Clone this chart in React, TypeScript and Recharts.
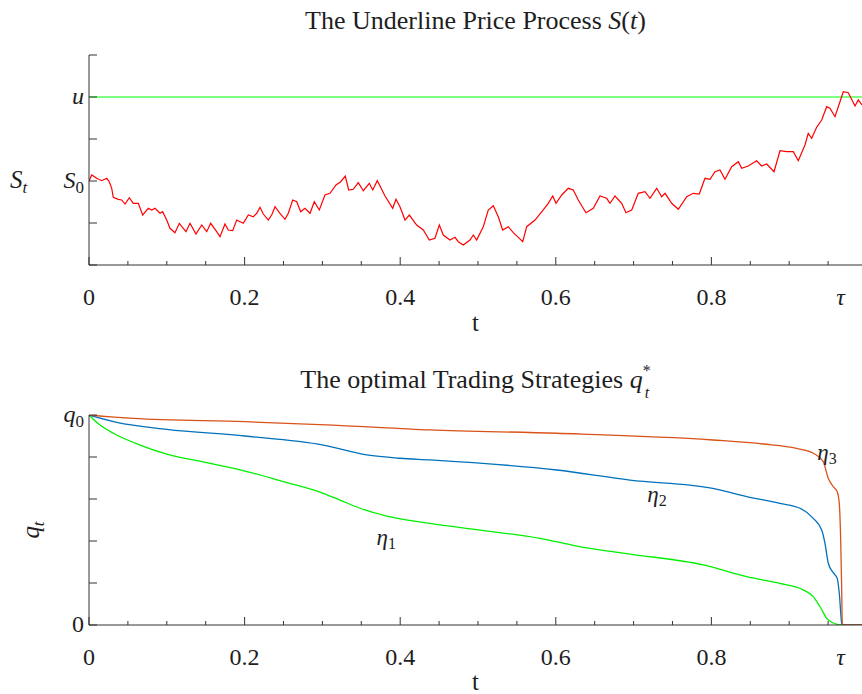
import { LineChart, Line, XAxis, YAxis, ReferenceLine, ReferenceDot } from 'recharts';

const SERIF = '"Liberation Serif", "Times New Roman", serif';
const INK = '#1e1e1e';
const AXIS = '#333333';

// shared time axis
const tMax = 0.9936;
const tau = 0.966;
const timeTicks = [0, 0.05, 0.1, 0.15, 0.2, 0.25, 0.3, 0.35, 0.4, 0.45, 0.5, 0.55, 0.6, 0.65, 0.7, 0.75, 0.8, 0.85, 0.9, 0.95];
const timeLabels = [0, 0.2, 0.4, 0.6, 0.8];

// price path S(t)
const barrier = 120;
const priceTicks = [80, 90, 100, 110, 120, 130];
const priceT = [
    0, 0.0035, 0.0099, 0.0163, 0.0228, 0.0261, 0.0292, 0.0312, 0.0377, 0.042,
    0.0463, 0.0518, 0.0569, 0.0634, 0.069, 0.0762, 0.0806, 0.0848, 0.0913, 0.0947,
    0.0999, 0.1041, 0.1105, 0.1161, 0.1212, 0.1247, 0.1298, 0.1375, 0.1449, 0.1513,
    0.1564, 0.1641, 0.1684, 0.1748, 0.179, 0.1847, 0.1898, 0.1983, 0.2048, 0.2112,
    0.2156, 0.2198, 0.224, 0.2305, 0.2348, 0.2391, 0.2455, 0.2519, 0.2562, 0.2618,
    0.267, 0.2721, 0.2776, 0.2841, 0.2896, 0.296, 0.3033, 0.3098, 0.3175, 0.3235,
    0.3294, 0.3338, 0.3397, 0.3461, 0.3526, 0.3603, 0.3647, 0.3706, 0.3805, 0.3904,
    0.3946, 0.3997, 0.4062, 0.4117, 0.4212, 0.4297, 0.4374, 0.4447, 0.4503, 0.4554,
    0.464, 0.4704, 0.4747, 0.4811, 0.4897, 0.494, 0.4983, 0.5068, 0.5132, 0.5197,
    0.5261, 0.5317, 0.5389, 0.5454, 0.5575, 0.5626, 0.5733, 0.5839, 0.5904, 0.596,
    0.6003, 0.6076, 0.6161, 0.6225, 0.6289, 0.6388, 0.6482, 0.6568, 0.6654, 0.6697,
    0.6761, 0.6847, 0.6902, 0.6976, 0.706, 0.7147, 0.7211, 0.7297, 0.7361, 0.7404,
    0.749, 0.7575, 0.7683, 0.7767, 0.7844, 0.7918, 0.7982, 0.8046, 0.8111, 0.8175,
    0.8261, 0.8346, 0.839, 0.8474, 0.8582, 0.8646, 0.8711, 0.8805, 0.8882, 0.8968,
    0.9053, 0.9117, 0.9203, 0.9245, 0.9289, 0.9353, 0.9418, 0.9482, 0.9524, 0.9589,
    0.9653, 0.9695, 0.976, 0.9846, 0.9888, 0.9936,
];
const priceS = [
    100, 101.43, 100.64, 100.07, 100.64, 99.83, 98.26, 96.12, 95.64, 95.48,
    94.52, 96.02, 94.69, 94.69, 91.9, 93.5, 93.1, 93.5, 92.31, 92.69,
    90.71, 88.74, 87.69, 89.93, 88.74, 87.93, 89.93, 87.38, 89.52, 87.93,
    89.93, 87.93, 86.74, 89.76, 88.33, 88.17, 90.71, 89.93, 91.9, 91.5,
    92.31, 93.74, 92.14, 90.71, 91.9, 93.88, 92.31, 90.88, 92.31, 95.48,
    95.07, 92.69, 93.5, 92.31, 95.07, 93.1, 96.67, 97.07, 99.05, 99.83,
    101.19, 97.86, 98.02, 99.6, 97.69, 99.45, 97.86, 100.07, 96.43, 93.5,
    95.64, 93.88, 90.71, 91.9, 89.52, 88.33, 85.95, 86.36, 89.52, 87.14,
    85.95, 86.6, 85.55, 84.76, 85.95, 87.14, 85.95, 89.12, 93.1, 94.12,
    91.5, 88.33, 89.12, 87.69, 85.55, 89.12, 90.71, 93.1, 94.69, 96.43,
    94.69, 96.67, 98.26, 97.86, 95.48, 92.45, 93.5, 96.43, 95.88, 94.69,
    96.43, 94.69, 92.45, 93.1, 97.07, 97.45, 95.88, 98.26, 96.26, 97.07,
    94.69, 93.26, 96.26, 97.07, 96.9, 100.64, 100.4, 102.21, 102.62, 100.4,
    103.4, 104.6, 103.02, 103.57, 104.83, 103.57, 104.05, 102.21, 107.21, 106.98,
    106.98, 104.83, 108.57, 111.36, 110.17, 112.79, 114.52, 117.69, 117.31, 115.31,
    118.88, 121.26, 121.02, 117.86, 119.29, 118.1,
];

// optimal holdings q_t / q_0 for each eta
const qTicks = [0, 0.2, 0.4, 0.6, 0.8, 1];
const eta1T = [0, 0.0141, 0.0312, 0.0656, 0.0999, 0.1513, 0.2005, 0.2497, 0.3012, 0.3226, 0.3483, 0.3826, 0.4383, 0.5026, 0.5797, 0.6269, 0.6954, 0.7896, 0.8454, 0.8882, 0.9181, 0.931, 0.9396, 0.9503, 0.9675, 0.9936];
const eta1Q = [1, 0.952, 0.913, 0.857, 0.814, 0.773, 0.733, 0.683, 0.627, 0.595, 0.556, 0.519, 0.484, 0.452, 0.413, 0.376, 0.338, 0.286, 0.23, 0.198, 0.167, 0.135, 0.087, 0.024, 0, 0];
const eta2T = [0, 0.0356, 0.0999, 0.2005, 0.3012, 0.3569, 0.3997, 0.4383, 0.6012, 0.6954, 0.8017, 0.8454, 0.8882, 0.9139, 0.931, 0.9418, 0.946, 0.9503, 0.9567, 0.9618, 0.9644, 0.9675, 0.9683, 0.9936];
const eta2Q = [1, 0.965, 0.932, 0.9, 0.857, 0.81, 0.794, 0.786, 0.738, 0.69, 0.651, 0.611, 0.579, 0.556, 0.508, 0.452, 0.389, 0.294, 0.249, 0.222, 0.151, 0.008, 0, 0];
const eta3T = [0, 0.057, 0.2005, 0.3136, 0.4383, 0.6012, 0.8017, 0.8667, 0.9096, 0.931, 0.9438, 0.9503, 0.9567, 0.9618, 0.9644, 0.9662, 0.9675, 0.9683, 0.9936];
const eta3Q = [1, 0.984, 0.968, 0.952, 0.929, 0.913, 0.881, 0.862, 0.841, 0.818, 0.778, 0.698, 0.659, 0.635, 0.579, 0.405, 0.167, 0, 0];

// where the eta names sit on the lower panel
const etaLabelT = [0.382, 0.73, 0.9486];
const etaLabelQ = [0.381, 0.586, 0.786];

const zip = (ts: number[], vs: number[], key: string) => ts.map((t, i) => ({ t, [key]: vs[i] }));
const priceData = zip(priceT, priceS, 's');
const eta1Data = zip(eta1T, eta1Q, 'q');
const eta2Data = zip(eta2T, eta2Q, 'q');
const eta3Data = zip(eta3T, eta3Q, 'q');

const textStyle = { fontFamily: SERIF, fill: INK };

// ticks point into the plot; labels drawn under the frame
function BottomTick({ x, y, payload }: any) {
    const v = payload.value;
    const isTau = v === tau;
    const major = timeLabels.includes(v);
    return (
        <g>
            {!isTau && <line x1={x} x2={x} y1={y} y2={y - (major ? 8 : 4)} stroke={AXIS} />}
            {(major || isTau) && (
                <text x={x} y={y + 40} textAnchor="middle" fontSize={24} fontStyle={isTau ? 'italic' : 'normal'} {...textStyle}>
                    {isTau ? 'τ' : String(v)}
                </text>
            )}
        </g>
    );
}

function TopTick({ x, y, payload }: any) {
    const major = timeLabels.includes(payload.value);
    return <line x1={x} x2={x} y1={y} y2={y + (major ? 8 : 4)} stroke={AXIS} />;
}

function RightTick({ x, y }: any) {
    return <line x1={x} x2={x - 8} y1={y} y2={y} stroke={AXIS} />;
}

function makeLeftTick(labels: Record<number, [string, string]>) {
    return function LeftTick({ x, y, payload }: any) {
        const lab = labels[payload.value];
        return (
            <g>
                <line x1={x} x2={x + 8} y1={y} y2={y} stroke={AXIS} />
                {lab && (
                    <text x={x - 5} y={y + 7} textAnchor="end" fontSize={24} {...textStyle}>
                        <tspan fontStyle={lab[0] === '0' ? 'normal' : 'italic'}>{lab[0]}</tspan>
                        {lab[1] && <tspan fontSize={17} dy={5}>{lab[1]}</tspan>}
                    </text>
                )}
            </g>
        );
    };
}

const PriceTick = makeLeftTick({ 100: ['S', '0'], 120: ['u', ''] });
const HoldingTick = makeLeftTick({ 1: ['q', '0'], 0: ['0', ''] });

function EtaName(n: number) {
    return ({ cx, cy }: any) => (
        <text x={cx} y={cy} textAnchor="middle" fontSize={23} {...textStyle}>
            <tspan fontStyle="italic">η</tspan>
            <tspan fontSize={16} dy={4}>{n}</tspan>
        </text>
    );
}

function Frame({ children, top, height, marginTop }: any) {
    return (
        <div style={{ position: 'absolute', left: 0, top }}>
            <LineChart width={862} height={height} margin={{ top: marginTop, right: 0, bottom: 0, left: 0 }}>
                <XAxis type="number" dataKey="t" domain={[0, tMax]} allowDataOverflow ticks={[...timeTicks, tau]} interval={0}
                    tickSize={0} tickMargin={0} tickLine={false} height={height - marginTop - 210} axisLine={{ stroke: AXIS }} tick={<BottomTick />} />
                <XAxis xAxisId="top" orientation="top" type="number" domain={[0, tMax]} allowDataOverflow ticks={timeTicks} interval={0}
                    tickSize={0} tickMargin={0} tickLine={false} height={0} axisLine={{ stroke: AXIS }} tick={<TopTick />} />
                {children}
            </LineChart>
        </div>
    );
}

export default function App() {
    return (
        <div style={{ position: 'absolute', left: 0, top: 0, width: 862, height: 694, background: '#fff', overflow: 'hidden' }}>
            <Frame top={0} height={340} marginTop={55}>
                <YAxis type="number" domain={[80, 130]} allowDataOverflow ticks={priceTicks} interval={0} width={89}
                    tickSize={0} tickMargin={0} tickLine={false} axisLine={{ stroke: AXIS }} tick={<PriceTick />} />
                <YAxis yAxisId="r" orientation="right" type="number" domain={[80, 130]} allowDataOverflow ticks={priceTicks} interval={0} width={0}
                    tickSize={0} tickMargin={0} tickLine={false} axisLine={{ stroke: AXIS }} tick={<RightTick />} />
                <ReferenceLine y={barrier} stroke="#00ff00" strokeWidth={1.2} />
                <Line data={priceData} dataKey="s" type="linear" stroke="#ff0000" strokeWidth={1.2} dot={false} isAnimationActive={false} />
            </Frame>
            <Frame top={340} height={354} marginTop={75}>
                <YAxis type="number" domain={[0, 1]} allowDataOverflow ticks={qTicks} interval={0} width={89}
                    tickSize={0} tickMargin={0} tickLine={false} axisLine={{ stroke: AXIS }} tick={<HoldingTick />} />
                <YAxis yAxisId="r" orientation="right" type="number" domain={[0, 1]} allowDataOverflow ticks={qTicks} interval={0} width={0}
                    tickSize={0} tickMargin={0} tickLine={false} axisLine={{ stroke: AXIS }} tick={<RightTick />} />
                <Line data={eta1Data} dataKey="q" type="monotone" stroke="#00f000" strokeWidth={1.3} dot={false} isAnimationActive={false} />
                <Line data={eta2Data} dataKey="q" type="monotone" stroke="#0072bd" strokeWidth={1.3} dot={false} isAnimationActive={false} />
                <Line data={eta3Data} dataKey="q" type="monotone" stroke="#d95319" strokeWidth={1.3} dot={false} isAnimationActive={false} />
                {etaLabelT.map((t, i) => (
                    <ReferenceDot key={i} x={t} y={etaLabelQ[i]} r={0} shape={EtaName(i + 1)} />
                ))}
            </Frame>
            <svg width={862} height={694} style={{ position: 'absolute', left: 0, top: 0, pointerEvents: 'none' }}>
                <text x={475.5} y={29} textAnchor="middle" fontSize={26} {...textStyle}>
                    The Underline Price Process <tspan fontStyle="italic">S</tspan>(<tspan fontStyle="italic">t</tspan>)
                </text>
                <text x={475.5} y={388} textAnchor="middle" fontSize={26} {...textStyle}>
                    The optimal Trading Strategies <tspan fontStyle="italic">q</tspan>
                    <tspan fontSize={16} dy={-12}>*</tspan>
                    <tspan fontSize={16} fontStyle="italic" dx={-6} dy={22}>t</tspan>
                </text>
                <text x={475.5} y={331} textAnchor="middle" fontSize={25} {...textStyle}>t</text>
                <text x={475.5} y={690} textAnchor="middle" fontSize={25} {...textStyle}>t</text>
                <text x={10} y={188} fontSize={25} {...textStyle}>
                    <tspan fontStyle="italic">S</tspan>
                    <tspan fontSize={17} fontStyle="italic" dy={5}>t</tspan>
                </text>
                <text x={0} y={0} transform="translate(39 530) rotate(-90)" textAnchor="middle" fontSize={25} {...textStyle}>
                    <tspan fontStyle="italic">q</tspan>
                    <tspan fontSize={17} fontStyle="italic" dy={5}>t</tspan>
                </text>
            </svg>
        </div>
    );
}
